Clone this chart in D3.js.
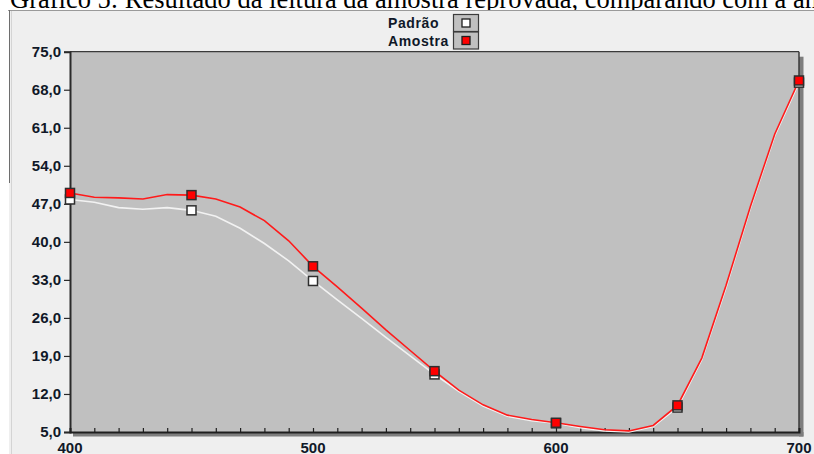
<!DOCTYPE html>
<html>
<head>
<meta charset="utf-8">
<script src="https://cdn.jsdelivr.net/npm/d3@7"></script>
<style>
  html, body { margin: 0; padding: 0; background: #ffffff; }
  svg { display: block; }
</style>
</head>
<body>
<svg id="chart" width="814" height="454"></svg>
<script>
// Wavelengths (nm) read every 10 nm
const wavelengths = [400,410,420,430,440,450,460,470,480,490,500,510,520,530,540,550,560,570,580,590,600,610,620,630,640,650,660,670,680,690,700];
// Reference curve ("Padrão")
const padrao = [47.8,47.3,46.3,46.0,46.3,45.8,44.7,42.5,39.7,36.5,32.8,29.3,25.9,22.4,19.0,15.6,12.5,9.8,7.9,7.1,6.6,5.8,5.2,5.0,6.0,9.5,18.3,31.6,46.2,59.5,69.3];
// Sample curve ("Amostra")
const amostra = [49.0,48.2,48.1,47.9,48.7,48.6,47.9,46.4,43.9,40.2,35.5,31.7,27.8,23.8,20.0,16.2,12.7,10.0,8.1,7.3,6.7,6.0,5.4,5.2,6.2,9.9,18.6,32.0,46.5,59.8,69.7];
// Wavelengths that carry a marker
const markerWavelengths = [400,450,500,550,600,650,700];
// Axis labels
const yTicks = [5,12,19,26,33,40,47,54,61,68,75];
const xLabels = [400,500,600,700];
const legendNames = ["Padrão","Amostra"];
const seriesColors = {"Padrão": "#ffffff", "Amostra": "#ff0000"};
const lineColors = {"Padrão": "#f2f2f2", "Amostra": "#ff1a1a"};
const titleText = "Gráfico 5: Resultado da leitura da amostra reprovada, comparando com a amostra padrão";

const svg = d3.select("#chart");
const W = 814, H = 454;

// Document title above the chart panel
svg.append("text")
  .attr("x", 10).attr("y", 8)
  .attr("font-family", "Liberation Serif, Times New Roman, serif")
  .attr("font-size", 26.5)
  .attr("fill", "#000")
  .text(titleText);

// Chart panel
svg.append("rect").attr("x", 9).attr("y", 10).attr("width", W - 9).attr("height", H - 10).attr("fill", "#efefef");
svg.append("line").attr("x1", 8).attr("x2", W).attr("y1", 10.5).attr("y2", 10.5).attr("stroke", "#9a9a9a");
svg.append("line").attr("x1", 9.5).attr("x2", 9.5).attr("y1", 10).attr("y2", 183).attr("stroke", "#6e6e6e");
svg.append("line").attr("x1", 11.5).attr("x2", 11.5).attr("y1", 11).attr("y2", H).attr("stroke", "#d4d4d4");

const plotLeft = 70, plotRight = 799, plotTop = 51.7, plotBottom = 432;
const x = d3.scaleLinear().domain([400, 700]).range([plotLeft, plotRight]);
const y = d3.scaleLinear().domain([5, 75]).range([plotBottom, plotTop]);

// Drop shadow of the plot area
svg.append("rect").attr("x", plotRight).attr("y", plotTop + 5).attr("width", 4.5).attr("height", plotBottom - plotTop - 0.5).attr("fill", "#7e7e7e");
svg.append("rect").attr("x", plotLeft + 3).attr("y", plotBottom).attr("width", plotRight - plotLeft + 1.5).attr("height", 4.5).attr("fill", "#7e7e7e");

// Plot background
svg.append("rect").attr("x", plotLeft).attr("y", plotTop).attr("width", plotRight - plotLeft).attr("height", plotBottom - plotTop).attr("fill", "#c0c0c0");
svg.append("line").attr("x1", plotLeft).attr("x2", plotRight).attr("y1", plotTop).attr("y2", plotTop).attr("stroke", "#3a3a3a").attr("stroke-width", 1.2);
svg.append("line").attr("x1", plotRight).attr("x2", plotRight).attr("y1", plotTop).attr("y2", plotBottom).attr("stroke", "#3a3a3a").attr("stroke-width", 1.5);

// Y axis
const yAxis = d3.axisLeft(y).tickValues(yTicks).tickSize(6).tickPadding(3)
  .tickFormat(d => d3.format(".1f")(d).replace(".", ","));
const gy = svg.append("g").attr("transform", `translate(${plotLeft},0)`).call(yAxis);
gy.select(".domain").attr("stroke", "#2a2a2a").attr("stroke-width", 2);
gy.selectAll(".tick line").attr("stroke", "#2a2a2a").attr("stroke-width", 1.2);
gy.selectAll(".tick text")
  .attr("font-family", "Liberation Sans, Arial, sans-serif")
  .attr("font-weight", "bold").attr("font-size", 15).attr("fill", "#101828");

// X axis: minor ticks every 10 nm pointing into the plot
const xAxis = d3.axisBottom(x).tickValues(wavelengths.slice(1, -1)).tickSize(-4).tickFormat("");
const gx = svg.append("g").attr("transform", `translate(0,${plotBottom})`).call(xAxis);
gx.select(".domain").attr("stroke", "#1e1e1e").attr("stroke-width", 2);
gx.selectAll(".tick line").attr("stroke", "#1e1e1e").attr("stroke-width", 1.2);

svg.append("g").selectAll("text").data(xLabels).join("text")
  .attr("x", d => x(d)).attr("y", 453)
  .attr("text-anchor", "middle")
  .attr("font-family", "Liberation Sans, Arial, sans-serif")
  .attr("font-weight", "bold").attr("font-size", 15).attr("fill", "#101828")
  .text(d => d);

// Series lines
const series = [
  {name: "Padrão", values: padrao},
  {name: "Amostra", values: amostra}
];
const line = d3.line().x((d, i) => x(wavelengths[i])).y(d => y(d)).curve(d3.curveLinear);
series.forEach(s => {
  svg.append("path").datum(s.values)
    .attr("fill", "none").attr("stroke", lineColors[s.name]).attr("stroke-width", 1.6)
    .attr("d", line);
});

// Markers
const ms = 9;
series.forEach(s => {
  const pts = markerWavelengths.map(w => ({w, v: s.values[wavelengths.indexOf(w)]}));
  svg.append("g").selectAll("rect").data(pts).join("rect")
    .attr("x", d => x(d.w) - ms / 2).attr("y", d => y(d.v) - ms / 2)
    .attr("width", ms).attr("height", ms)
    .attr("fill", seriesColors[s.name]).attr("stroke", "#2e2e2e").attr("stroke-width", 1.5);
});

// Legend
const legend = svg.append("g");
legendNames.forEach((name, i) => {
  const by = 14 + i * 17.5;
  legend.append("rect").attr("x", 453.5).attr("y", by + 0.5).attr("width", 25).attr("height", 17)
    .attr("fill", "#c0c0c0").attr("stroke", "#3c3c3c").attr("stroke-width", 1.2);
  legend.append("rect").attr("x", 462).attr("y", by + 5).attr("width", 8).attr("height", 8)
    .attr("fill", seriesColors[name]).attr("stroke", "#1e1e1e").attr("stroke-width", 1.3);
  legend.append("text").attr("x", 388).attr("y", by + 14)
    .attr("font-family", "Liberation Sans, Arial, sans-serif")
    .attr("font-weight", "bold").attr("font-size", 14).attr("letter-spacing", 0.6)
    .attr("fill", "#101828")
    .text(name);
});
</script>
</body>
</html>
